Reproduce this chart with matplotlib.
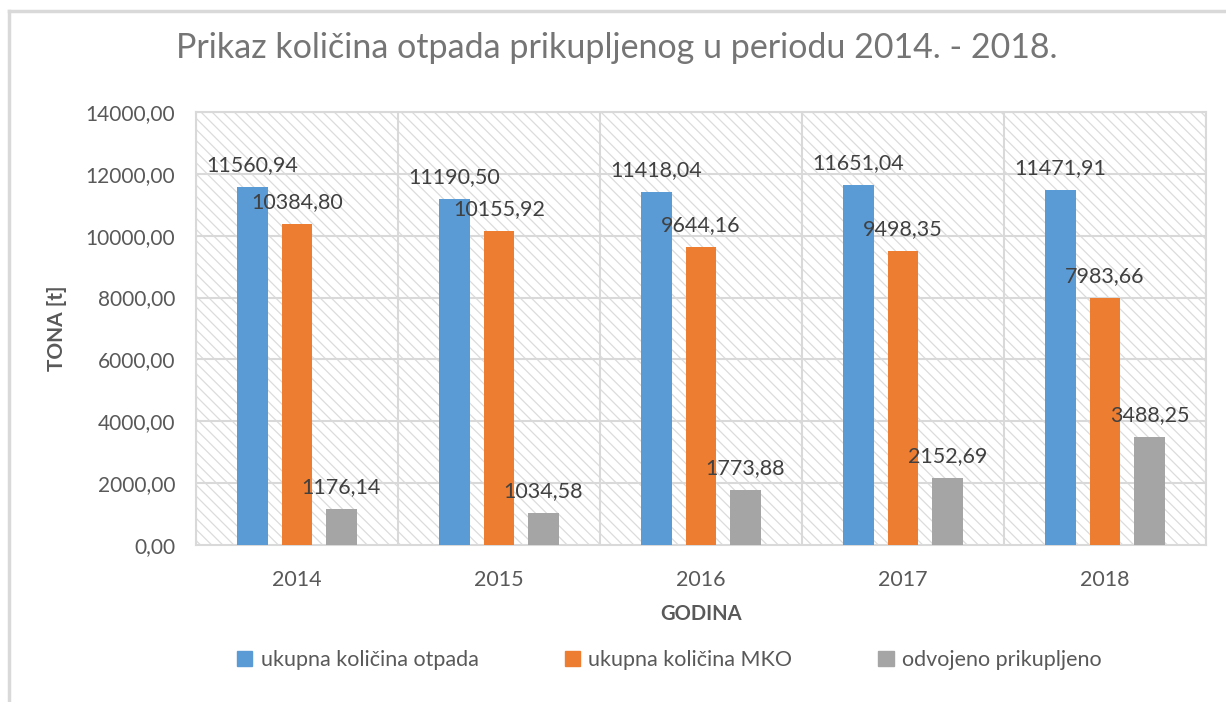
import numpy as np
import matplotlib.pyplot as plt
from matplotlib.patches import Rectangle
from matplotlib.lines import Line2D

years = ['2014', '2015', '2016', '2017', '2018']
ukupno = [11560.94, 11190.50, 11418.04, 11651.04, 11471.91]
mko = [10384.80, 10155.92, 9644.16, 9498.35, 7983.66]
odvojeno = [1176.14, 1034.58, 1773.88, 2152.69, 3488.25]
series_names = ['ukupna količina otpada', 'ukupna količina MKO', 'odvojeno prikupljeno']
colors = ['#5B9BD5', '#ED7D31', '#A5A5A5']

txt = '#595959'
grid = '#d9d9d9'
plt.rcParams['font.family'] = ['Lato', 'DejaVu Sans']
plt.rcParams['hatch.linewidth'] = 0.9

fig = plt.figure(figsize=(12.26, 7.02), dpi=100)
ax = fig.add_axes([196 / 1226, 1 - 545 / 702, 1010 / 1226, 433 / 702])

# hatched plot area background
bg = Rectangle((0, 0), 1, 1, transform=ax.transAxes, facecolor='white',
               edgecolor='#dcdcdc', hatch='\\' * 3, linewidth=0, zorder=0)
ax.add_patch(bg)

x = np.arange(len(years))
offs = [-0.22, 0, 0.22]
width = 0.15
for vals, off, c, name in zip([ukupno, mko, odvojeno], offs, colors, series_names):
    bars = ax.bar(x + off, vals, width, color=c, label=name, zorder=3)
    for b, v in zip(bars, vals):
        ax.annotate(f'{v:.2f}'.replace('.', ','),
                    (b.get_x() + b.get_width() / 2, v),
                    xytext=(0, 12), textcoords='offset pixels',
                    ha='center', va='bottom', fontsize=15.5, color='#404040', zorder=4)

ax.set_xlim(-0.5, len(years) - 0.5)
ax.set_ylim(0, 14000)
ax.set_yticks(np.arange(0, 14001, 2000))
ax.set_yticklabels([f'{v:.2f}'.replace('.', ',') for v in np.arange(0, 14001, 2000)])
ax.set_xticks(x)
ax.set_xticklabels(years)
ax.tick_params(length=0, labelcolor=txt)
ax.tick_params(axis='y', labelsize=15, pad=15)
ax.tick_params(axis='x', labelsize=15.5, pad=18)

for yv in np.arange(2000, 14001, 2000):
    ax.axhline(yv, color=grid, lw=1.5, zorder=1)
for xv in np.arange(-0.5, len(years), 1.0):
    ax.axvline(xv, color=grid, lw=1.5, zorder=1)
for s in ax.spines.values():
    s.set_color(grid)
    s.set_linewidth(1.5)

ax.set_ylabel('TONA [t]', fontsize=15, fontweight='bold', color=txt, labelpad=13)
ax.set_xlabel('GODINA', fontsize=14.5, fontweight='bold', color=txt, labelpad=10)

fig.suptitle('Prikaz količina otpada prikupljenog u periodu 2014. - 2018.',
             x=0.503, y=0.955, fontsize=24.5, color='#757575')

handles = [Rectangle((0, 0), 1, 1, color=c) for c in colors]
fig.legend(handles, series_names, loc='center', bbox_to_anchor=(0.546, 0.06),
           ncol=3, frameon=False, fontsize=15.5, labelcolor=txt,
           handlelength=0.7, handleheight=0.7, handletextpad=0.4, columnspacing=4.0)

# outer chart border (top and left only visible)
fig.add_artist(Line2D([9 / 1226, 9 / 1226], [0, 1 - 11 / 702], color=grid, lw=2.5))
fig.add_artist(Line2D([9 / 1226, 1], [1 - 11 / 702, 1 - 11 / 702], color=grid, lw=2.5))

fig.savefig('out.png', dpi=100)
